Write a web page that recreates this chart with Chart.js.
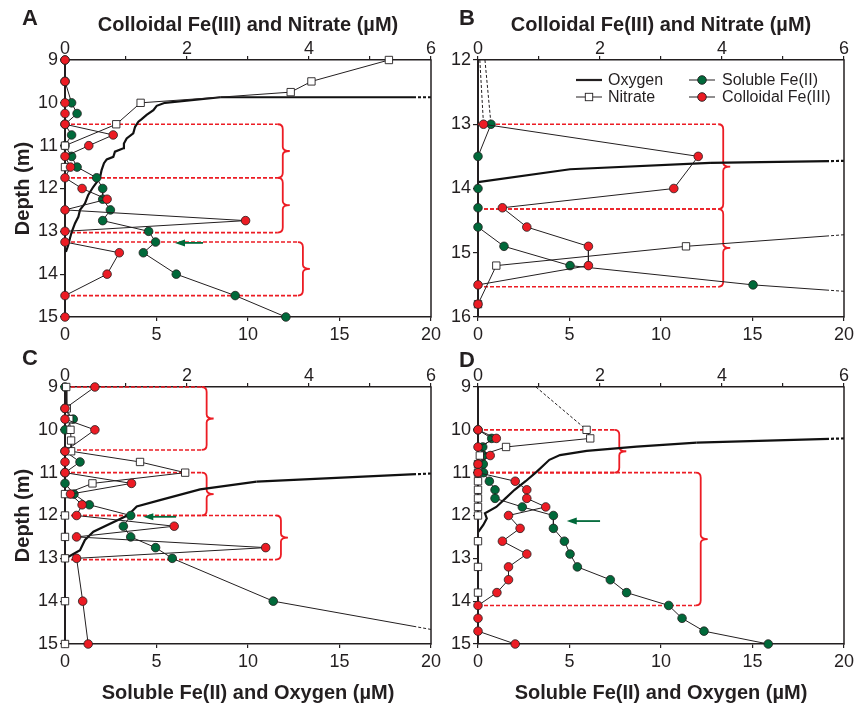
<!DOCTYPE html>
<html>
<head>
<meta charset="utf-8">
<script src="https://cdn.jsdelivr.net/npm/chart.js@4.4.1/dist/chart.umd.min.js"></script>
<style>
  html, body { margin: 0; padding: 0; background: #fff; }
  #wrap { position: relative; width: 861px; height: 707px; }
  #wrap canvas { position: absolute; left: 0; top: 0; }
</style>
</head>
<body>
<div id="wrap">
  <canvas id="panelA" width="861" height="707"></canvas>
  <canvas id="panelB" width="861" height="707"></canvas>
  <canvas id="panelC" width="861" height="707"></canvas>
  <canvas id="panelD" width="861" height="707"></canvas>
</div>
<script>
// ---------------- Tick labels ----------------
const topTickLabels = [0, 2, 4, 6];          // colloidal Fe(III) / nitrate axis (µM)
const bottomTickLabels = [0, 5, 10, 15, 20]; // soluble Fe(II) / oxygen axis (µM)

// ---------------- Panel A (9–15 m) ----------------
const depthA = [9, 9.5, 10, 10.25, 10.5, 10.75, 11, 11.25, 11.5, 11.75, 12, 12.25, 12.5, 12.75, 13, 13.25, 13.5, 14, 14.5, 15];
const colloidalA = [0, 0, 0, 0, 0, 0.79, 0.39, 0, 0.09, 0, 0.28, 0.69, 0, 2.96, 0, 0, 0.89, 0.69, 0, 0];
const solubleA = [0, 0, 0.36, 0.66, 0, 0.36, 0, 0.36, 0.66, 1.73, 2.06, 2.06, 2.48, 2.06, 4.57, 4.95, 4.28, 6.08, 9.3, 12.07];
const nitrateDepthA = [9, 9.5, 9.75, 10, 10.5, 11, 11.5];
const nitrateA = [5.31, 4.04, 3.70, 1.24, 0.84, 0, 0];
const oxygenDepthA = [13.48, 13.32, 13.16, 13.01, 12.81, 12.66, 12.5, 12.35, 12.15, 11.96, 11.75, 11.57, 11.41, 11.32, 11.26, 11.14, 11.06, 10.95, 10.83, 10.71, 10.56, 10.44, 10.38, 10.28, 10.17, 10.07, 10.0, 9.87, 9.87];
const oxygenA = [0.05, 0.18, 0.27, 0.37, 0.55, 0.73, 0.82, 1.09, 1.27, 1.55, 1.91, 2.0, 2.13, 2.28, 2.64, 2.73, 3.19, 3.22, 3.37, 3.73, 3.83, 4.01, 4.19, 4.46, 4.83, 5.01, 5.46, 8.5, 20];

// ---------------- Panel B (12–16 m) ----------------
const colloidalDepthB = [12, 13, 13.5, 14, 14.3, 14.6, 14.9, 15.2, 15.5, 15.8];
const colloidalB = [0.03, 0.09, 3.61, 3.21, 0.40, 0.80, 1.81, 1.81, 0, 0];
const solubleDepthB = [12, 13, 13.5, 14, 14.3, 14.6, 14.9, 15.2, 15.5, 15.6];
const solubleB = [0.38, 0.71, 0, 0, 0, 0, 1.42, 5.03, 15.03, 20];
const nitrateDepthB = [15.8, 15.2, 14.9, 14.72];
const nitrateB = [0, 0.3, 3.41, 6];
const oxygenDepthB = [13.9, 13.7, 13.6, 13.57];
const oxygenB = [0, 5.03, 12.68, 20];

// ---------------- Panel C (9–15 m) ----------------
const depthC = [9, 9.5, 9.75, 10, 10.5, 10.75, 11, 11.25, 11.5, 11.75, 12, 12.25, 12.5, 12.75, 13, 14, 15];
const colloidalC = [0.49, 0, 0, 0.49, 0, 0, 0, 1.09, 0.09, 0.28, 0.19, 1.79, 0.19, 3.29, 0.19, 0.29, 0.38];
const solubleDepthC = [9, 9.5, 9.75, 10, 10.5, 10.75, 11, 11.25, 11.5, 11.75, 12, 12.25, 12.5, 12.75, 13, 14, 14.66];
const solubleC = [0, 0, 0.45, 0, 0, 0.82, 0, 0, 0.49, 1.33, 3.59, 3.19, 3.59, 4.95, 5.86, 11.38, 20];
const nitrateDepthC = [9, 9.5, 9.75, 10, 10.25, 10.5, 10.75, 11, 11.25, 11.5, 12, 12.5, 13, 14, 15];
const nitrateC = [0.02, 0.03, 0.07, 0.09, 0.1, 0.1, 1.23, 1.97, 0.45, 0, 0, 0, 0, 0, 0];
const oxygenDepthC = [13.01, 12.81, 12.57, 12.38, 11.99, 11.79, 11.64, 11.39, 11.21, 11.02];
const oxygenC = [0, 0.82, 1.09, 1.55, 3.46, 3.92, 5.19, 7.38, 10.47, 20];

// ---------------- Panel D (9–15 m) ----------------
const depthD = [10, 10.2, 10.4, 10.6, 10.8, 11, 11.2, 11.4, 11.6, 11.8, 12, 12.3, 12.6, 12.9, 13.2, 13.5, 13.8, 14.1, 14.4, 14.7, 15];
const colloidalD = [0, 0.30, 0, 0.20, 0, 0, 0.61, 0.80, 0.80, 1.11, 0.50, 0.69, 0.40, 0.80, 0.50, 0.50, 0.31, 0, 0, 0, 0.61];
const solubleD = [0, 0.75, 0.26, 0.29, 0.29, 0.30, 0.62, 0.93, 0.93, 2.42, 4.12, 4.12, 4.72, 5.03, 5.43, 7.23, 8.12, 10.42, 11.15, 12.35, 15.86];
const nitrateDepthD = [9, 10, 10.2, 10.4, 10.6, 10.8, 11, 11.2, 11.4, 11.6, 11.8, 12, 12.6, 13.2, 13.8];
const nitrateD = [0.95, 1.78, 1.84, 0.46, 0.03, 0, 0, 0, 0, 0, 0, 0, 0, 0, 0];
const oxygenDepthD = [12.38, 12.22, 12.07, 11.95, 11.8, 11.6, 11.4, 11.2, 10.98, 10.7, 10.59, 10.49, 10.39, 10.3, 10.2];
const oxygenD = [0.02, 0.29, 0.48, 0.38, 1.0, 1.5, 2.0, 2.6, 3.2, 3.9, 4.48, 5.94, 8.67, 11.95, 20];

// ---------------- Zone brackets: [top depth, bottom depth, bracket position on Fe(II) axis] ----------------
const zonesA = [[10.5, 11.75, 11.9], [11.75, 13.03, 11.9], [13.25, 14.5, 13.0]];
const zonesB = [[13.0, 14.32, 13.4], [14.32, 15.53, 13.4]];
const zonesC = [[9.0, 10.47, 7.74], [11.0, 12.0, 7.74], [12.0, 13.03, 11.8]];
const zonesD = [[10.0, 11.0, 7.72], [11.0, 14.1, 12.17]];

// ---------------- Fe(II) maximum arrows: [depth, tail, head] on Fe(II) axis ----------------
const arrowA = [13.27, 7.54, 6.01];
const arrowC = [12.03, 6.07, 4.28];
const arrowD = [12.13, 6.67, 4.85];

// ---------------- Styling ----------------
const INK = '#231f20';
const RED = '#ec1c24';
const GREEN = '#00693a';
const FONT = "'Liberation Sans', Arial, Helvetica, sans-serif";

// Build point objects; a profile that runs past the plotted range ends on a "cut" point
function pts(depths, values, cutStart, cutEnd) {
  const out = depths.map((d, i) => ({ x: values[i], y: d }));
  if (cutStart) out[0].cut = cutStart;
  if (cutEnd) out[out.length - 1].cut = cutEnd;
  return out;
}

// Dashed run-in from above the range, dashed tail where a profile leaves the frame
function segDash(ctx) {
  const data = ctx.chart.data.datasets[ctx.datasetIndex].data;
  const a = data[ctx.p0DataIndex], b = data[ctx.p1DataIndex];
  if ((a && a.cut === 'full') || (b && b.cut === 'full')) return [3, 2];
  if (b && b.cut === 'tail') {
    const L = Math.hypot(ctx.p1.x - ctx.p0.x, ctx.p1.y - ctx.p0.y);
    return [Math.max(L - 15, 0.1), 2, 3, 2, 3, 2, 3, 0];
  }
  return undefined;
}

const hideCut = r => ctx => (ctx.raw && ctx.raw.cut ? 0 : r);

function datasets(colloidal, nitrate, soluble, oxygen) {
  const common = { showLine: true, borderColor: INK, borderWidth: 1, pointBorderColor: INK,
                   pointBorderWidth: 0.8, segment: { borderDash: segDash }, clip: 14, yAxisID: 'y' };
  return [
    Object.assign({}, common, { label: 'Colloidal Fe(III)', data: colloidal, xAxisID: 'xTop',
      pointStyle: 'circle', pointRadius: hideCut(4.3), pointBackgroundColor: RED }),
    Object.assign({}, common, { label: 'Nitrate', data: nitrate, xAxisID: 'xTop',
      pointStyle: 'rect', pointRadius: hideCut(5.2), pointBackgroundColor: '#ffffff', pointBorderWidth: 0.9 }),
    Object.assign({}, common, { label: 'Soluble Fe(II)', data: soluble, xAxisID: 'xBot',
      pointStyle: 'circle', pointRadius: hideCut(4.3), pointBackgroundColor: GREEN }),
    Object.assign({}, common, { label: 'Oxygen', data: oxygen, xAxisID: 'xBot',
      borderColor: '#111111', borderWidth: 2.2, pointRadius: 0 })
  ];
}

function fixSize(size) {
  return s => {
    if (s.isHorizontal()) s.height = size; else s.width = size;
    s.paddingLeft = 0; s.paddingRight = 0; s.paddingTop = 0; s.paddingBottom = 0;
  };
}

function scales(yMin, yMax) {
  const tickFont = { family: FONT, size: 18 };
  return {
    xTop: {
      type: 'linear', position: 'top', min: 0, max: 6, afterFit: fixSize(40),
      ticks: { stepSize: 1, autoSkip: false, maxRotation: 0, color: INK, font: tickFont, padding: -4,
               callback: v => (topTickLabels.includes(v) ? String(v) : '') },
      grid: { drawOnChartArea: false, drawTicks: true, tickLength: 4, color: INK, lineWidth: 1.2 },
      border: { display: true, color: INK, width: 1.5 }
    },
    xBot: {
      type: 'linear', position: 'bottom', min: 0, max: 20, afterFit: fixSize(40),
      ticks: { stepSize: 5, autoSkip: false, maxRotation: 0, color: INK, font: tickFont, padding: 3,
               callback: v => (bottomTickLabels.includes(v) ? String(v) : '') },
      grid: { drawOnChartArea: false, drawTicks: true, tickLength: 4, color: INK, lineWidth: 1.2 },
      border: { display: true, color: INK, width: 1.5 }
    },
    y: {
      type: 'linear', position: 'left', reverse: true, min: yMin, max: yMax, afterFit: fixSize(45),
      ticks: { stepSize: 1, autoSkip: false, color: INK, font: tickFont, padding: 2 },
      grid: { drawOnChartArea: false, drawTicks: true, tickLength: 5, color: INK, lineWidth: 1.2 },
      border: { display: true, color: INK, width: 2 }
    }
  };
}

function drawZone(ctx, x0, xb, yT, yB) {
  const r = 5, tip = 7, ym = (yT + yB) / 2;
  ctx.save();
  ctx.strokeStyle = RED;
  ctx.lineWidth = 1.6;
  ctx.setLineDash([4, 2]);
  ctx.beginPath();
  ctx.moveTo(x0, yT); ctx.lineTo(xb - r, yT);
  ctx.moveTo(x0, yB); ctx.lineTo(xb - r, yB);
  ctx.stroke();
  ctx.setLineDash([]);
  ctx.lineWidth = 1.8;
  ctx.beginPath();
  ctx.moveTo(xb - r, yT);
  ctx.quadraticCurveTo(xb, yT, xb, yT + r);
  ctx.lineTo(xb, ym - 4);
  ctx.quadraticCurveTo(xb, ym, xb + tip, ym);
  ctx.quadraticCurveTo(xb, ym, xb, ym + 4);
  ctx.lineTo(xb, yB - r);
  ctx.quadraticCurveTo(xb, yB, xb - r, yB);
  ctx.stroke();
  ctx.restore();
}

function drawArrow(ctx, xTail, xHead, y) {
  const len = 10, half = 3.5;
  ctx.save();
  ctx.strokeStyle = GREEN; ctx.fillStyle = GREEN; ctx.lineWidth = 1.8;
  ctx.beginPath();
  ctx.moveTo(xTail, y); ctx.lineTo(xHead + len - 1, y);
  ctx.stroke();
  ctx.beginPath();
  ctx.moveTo(xHead, y); ctx.lineTo(xHead + len, y - half); ctx.lineTo(xHead + len, y + half);
  ctx.closePath(); ctx.fill();
  ctx.restore();
}

function drawLegend(ctx, a) {
  const rows = [a.top + 20, a.top + 37];
  const cols = [{ s: a.left + 98, e: a.left + 124, t: a.left + 130 },
                { s: a.left + 211, e: a.left + 237, t: a.left + 244 }];
  const items = [
    { c: 0, r: 0, text: 'Oxygen', lw: 2.2, marker: null },
    { c: 0, r: 1, text: 'Nitrate', lw: 1, marker: 'rect' },
    { c: 1, r: 0, text: 'Soluble Fe(II)', lw: 1, marker: GREEN },
    { c: 1, r: 1, text: 'Colloidal Fe(III)', lw: 1, marker: RED }
  ];
  ctx.save();
  ctx.font = `16px ${FONT}`;
  ctx.textBaseline = 'middle';
  ctx.textAlign = 'left';
  items.forEach(it => {
    const col = cols[it.c], y = rows[it.r], mx = (col.s + col.e) / 2;
    ctx.strokeStyle = INK; ctx.lineWidth = it.lw;
    ctx.beginPath(); ctx.moveTo(col.s, y); ctx.lineTo(col.e, y); ctx.stroke();
    ctx.lineWidth = 0.9;
    if (it.marker === 'rect') {
      ctx.fillStyle = '#fff';
      ctx.fillRect(mx - 3.7, y - 3.7, 7.4, 7.4);
      ctx.strokeRect(mx - 3.7, y - 3.7, 7.4, 7.4);
    } else if (it.marker) {
      ctx.fillStyle = it.marker;
      ctx.beginPath(); ctx.arc(mx, y, 4.3, 0, Math.PI * 2); ctx.fill(); ctx.stroke();
    }
    ctx.fillStyle = INK;
    ctx.fillText(it.text, col.t, y + 1);
  });
  ctx.restore();
}

function panelDecor(spec) {
  return {
    id: 'panelDecor' + spec.letter,
    beforeDatasetsDraw(chart) {
      const { ctx, chartArea: a, scales: s } = chart;
      spec.zones.forEach(([top, bot, bx]) => {
        drawZone(ctx, a.left, s.xBot.getPixelForValue(bx), s.y.getPixelForValue(top), s.y.getPixelForValue(bot));
      });
    },
    afterDatasetsDraw(chart) {
      const { ctx, scales: s } = chart;
      if (spec.arrow) {
        const [d, tail, head] = spec.arrow;
        drawArrow(ctx, s.xBot.getPixelForValue(tail), s.xBot.getPixelForValue(head), s.y.getPixelForValue(d));
      }
    },
    afterDraw(chart) {
      const { ctx, chartArea: a } = chart;
      ctx.save();
      // closing right edge of the frame
      ctx.strokeStyle = INK; ctx.lineWidth = 1.5;
      ctx.beginPath(); ctx.moveTo(a.right, a.top - 0.75); ctx.lineTo(a.right, a.bottom + 0.75); ctx.stroke();
      ctx.fillStyle = INK;
      ctx.textBaseline = 'alphabetic';
      // panel letter
      ctx.font = `bold 22px ${FONT}`;
      ctx.textAlign = 'left';
      ctx.fillText(spec.letter, spec.letterPos[0], spec.letterPos[1]);
      ctx.font = `bold 20px ${FONT}`;
      ctx.textAlign = 'center';
      const cx = (a.left + a.right) / 2;
      if (spec.topTitle) ctx.fillText('Colloidal Fe(III) and Nitrate (µM)', cx, a.top - 29);
      if (spec.bottomTitle) ctx.fillText('Soluble Fe(II) and Oxygen (µM)', cx, a.bottom + 55);
      if (spec.yTitle) {
        ctx.save();
        ctx.translate(29, (a.top + a.bottom) / 2);
        ctx.rotate(-Math.PI / 2);
        ctx.fillText('Depth (m)', 0, 0);
        ctx.restore();
      }
      if (spec.legend) drawLegend(ctx, a);
      ctx.restore();
    }
  };
}

function makePanel(canvasId, spec, sets, yMin, yMax, area) {
  const [L, T, R, B] = area;
  return new Chart(document.getElementById(canvasId), {
    type: 'scatter',
    data: { datasets: sets },
    options: {
      responsive: false,
      animation: false,
      devicePixelRatio: 1,
      events: [],
      layout: { padding: { left: L - 45, top: T - 40, right: 861 - R, bottom: 707 - B - 40 } },
      plugins: { legend: { display: false }, tooltip: { enabled: false } },
      scales: scales(yMin, yMax)
    },
    plugins: [panelDecor(spec)]
  });
}

makePanel('panelA',
  { letter: 'A', letterPos: [22, 25], topTitle: true, yTitle: true, zones: zonesA, arrow: arrowA },
  datasets(pts(depthA, colloidalA), pts(nitrateDepthA, nitrateA), pts(depthA, solubleA),
           pts(oxygenDepthA, oxygenA, null, 'tail')),
  9, 15, [65, 60, 431, 317]);

makePanel('panelB',
  { letter: 'B', letterPos: [459, 25], topTitle: true, legend: true, zones: zonesB },
  datasets(pts(colloidalDepthB, colloidalB, 'full'), pts(nitrateDepthB, nitrateB, null, 'tail'),
           pts(solubleDepthB, solubleB, 'full', 'tail'), pts(oxygenDepthB, oxygenB, null, 'tail')),
  12, 16, [478, 60, 844, 317]);

makePanel('panelC',
  { letter: 'C', letterPos: [22, 365], bottomTitle: true, yTitle: true, zones: zonesC, arrow: arrowC },
  datasets(pts(depthC, colloidalC), pts(nitrateDepthC, nitrateC), pts(solubleDepthC, solubleC, null, 'tail'),
           pts(oxygenDepthC, oxygenC, null, 'tail')),
  9, 15, [65, 387, 431, 644]);

makePanel('panelD',
  { letter: 'D', letterPos: [459, 367], bottomTitle: true, zones: zonesD, arrow: arrowD },
  datasets(pts(depthD, colloidalD), pts(nitrateDepthD, nitrateD, 'full'), pts(depthD, solubleD),
           pts(oxygenDepthD, oxygenD, null, 'tail')),
  9, 15, [478, 387, 844, 644]);
</script>
</body>
</html>
